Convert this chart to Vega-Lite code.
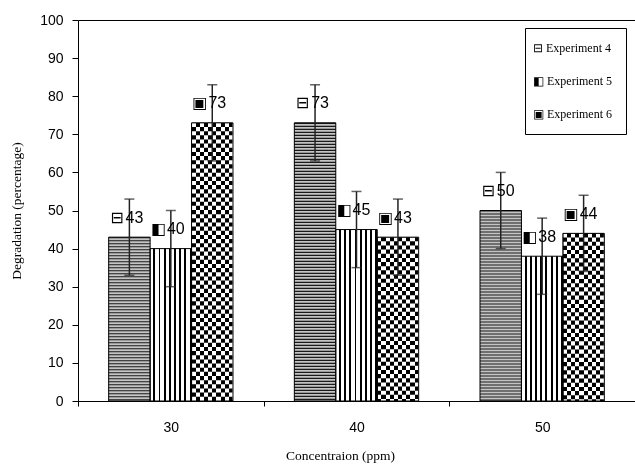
{
  "$schema": "https://vega.github.io/schema/vega-lite/v6.json",
  "autosize": {"type": "none"},
  "padding": {"left": 78, "top": 20, "right": 0, "bottom": 65},
  "width": 557,
  "height": 381,
  "background": "white",
  "data": {
    "values": [
      {"conc": "30", "series": "Experiment 4", "value": 43, "err": 10},
      {"conc": "30", "series": "Experiment 5", "value": 40, "err": 10},
      {"conc": "30", "series": "Experiment 6", "value": 73, "err": 10},
      {"conc": "40", "series": "Experiment 4", "value": 73, "err": 10},
      {"conc": "40", "series": "Experiment 5", "value": 45, "err": 10},
      {"conc": "40", "series": "Experiment 6", "value": 43, "err": 10},
      {"conc": "50", "series": "Experiment 4", "value": 50, "err": 10},
      {"conc": "50", "series": "Experiment 5", "value": 38, "err": 10},
      {"conc": "50", "series": "Experiment 6", "value": 44, "err": 10}
    ]
  },
  "encoding": {
    "x": {
      "field": "conc",
      "type": "nominal",
      "scale": {"paddingInner": 0, "paddingOuter": 0},
      "axis": {
        "title": "Concentraion (ppm)",
        "labelAngle": 0,
        "tickBand": "extent",
        "tickSize": 5,
        "labelPadding": 14,
        "titlePadding": 14,
        "titleX": 262,
        "titleAnchor": "middle",
        "zindex": 2
      }
    },
    "xOffset": {
      "field": "series",
      "type": "nominal",
      "scale": {"domain": ["Experiment 4", "Experiment 5", "Experiment 6"], "paddingInner": 0, "paddingOuter": 0.74}
    },
    "y": {
      "field": "value",
      "type": "quantitative",
      "scale": {"domain": [0, 100]},
      "axis": {
        "title": "Degradation (percentage)",
        "values": [0, 10, 20, 30, 40, 50, 60, 70, 80, 90, 100],
        "tickSize": 6,
        "labelPadding": 9,
        "titlePadding": 16,
        "grid": true,
        "gridColor": "#000",
        "gridOpacity": {"condition": {"test": "datum.value === 100", "value": 1}, "value": 0},
        "zindex": 2
      }
    }
  },
  "layer": [
    {
      "transform": [{"filter": "datum.series === 'Experiment 4'"}],
      "mark": {"type": "bar", "fill": "#c4c4c4"}
    },
    {
      "transform": [{"filter": "datum.series === 'Experiment 4'"}],
      "mark": {"type": "rule", "stroke": "#1a1a1a", "strokeWidth": 41.5, "strokeDash": [1.1, 1.9], "strokeCap": "butt"},
      "encoding": {"y2": {"datum": 0}}
    },
    {
      "transform": [{"filter": "datum.series === 'Experiment 5'"}],
      "mark": {
        "type": "bar",
        "fill": {
          "gradient": "linear", "x1": 0, "y1": 0, "x2": 1, "y2": 0,
          "stops": [
            {"offset": 0, "color": "#fff"}, {"offset": 0.0775, "color": "#fff"}, {"offset": 0.0775, "color": "#000"}, {"offset": 0.125, "color": "#000"},
            {"offset": 0.125, "color": "#fff"}, {"offset": 0.2025, "color": "#fff"}, {"offset": 0.2025, "color": "#000"}, {"offset": 0.25, "color": "#000"},
            {"offset": 0.25, "color": "#fff"}, {"offset": 0.3275, "color": "#fff"}, {"offset": 0.3275, "color": "#000"}, {"offset": 0.375, "color": "#000"},
            {"offset": 0.375, "color": "#fff"}, {"offset": 0.4525, "color": "#fff"}, {"offset": 0.4525, "color": "#000"}, {"offset": 0.5, "color": "#000"},
            {"offset": 0.5, "color": "#fff"}, {"offset": 0.5775, "color": "#fff"}, {"offset": 0.5775, "color": "#000"}, {"offset": 0.625, "color": "#000"},
            {"offset": 0.625, "color": "#fff"}, {"offset": 0.7025, "color": "#fff"}, {"offset": 0.7025, "color": "#000"}, {"offset": 0.75, "color": "#000"},
            {"offset": 0.75, "color": "#fff"}, {"offset": 0.8275, "color": "#fff"}, {"offset": 0.8275, "color": "#000"}, {"offset": 0.875, "color": "#000"},
            {"offset": 0.875, "color": "#fff"}, {"offset": 0.9525, "color": "#fff"}, {"offset": 0.9525, "color": "#000"}, {"offset": 1, "color": "#000"}
          ]
        }
      }
    },
    {
      "transform": [{"filter": "datum.series === 'Experiment 6'"}],
      "mark": {
        "type": "bar",
        "fill": {
          "gradient": "linear", "x1": 0, "y1": 0, "x2": 1, "y2": 0,
          "stops": [
            {"offset": 0, "color": "#000"}, {"offset": 0.1, "color": "#000"}, {"offset": 0.1, "color": "#fff"}, {"offset": 0.2, "color": "#fff"},
            {"offset": 0.2, "color": "#000"}, {"offset": 0.3, "color": "#000"}, {"offset": 0.3, "color": "#fff"}, {"offset": 0.4, "color": "#fff"},
            {"offset": 0.4, "color": "#000"}, {"offset": 0.5, "color": "#000"}, {"offset": 0.5, "color": "#fff"}, {"offset": 0.6, "color": "#fff"},
            {"offset": 0.6, "color": "#000"}, {"offset": 0.7, "color": "#000"}, {"offset": 0.7, "color": "#fff"}, {"offset": 0.8, "color": "#fff"},
            {"offset": 0.8, "color": "#000"}, {"offset": 0.9, "color": "#000"}, {"offset": 0.9, "color": "#fff"}, {"offset": 1, "color": "#fff"}
          ]
        }
      }
    },
    {
      "transform": [{"filter": "datum.series === 'Experiment 6'"}],
      "mark": {"type": "rule", "stroke": "#fff", "strokeWidth": 40.5, "strokeDash": [4.15, 4.15], "strokeCap": "butt", "blend": "difference"},
      "encoding": {"y2": {"datum": 0}}
    },
    {
      "mark": {"type": "bar", "fill": "transparent", "stroke": "#000", "strokeWidth": 1}
    },
    {
      "mark": {
        "type": "errorbar",
        "rule": {"stroke": "#222", "strokeWidth": 1.5},
        "ticks": {"color": "#222", "size": 10, "thickness": 1.5}
      },
      "encoding": {"yError": {"field": "err"}}
    },
    {
      "mark": {"type": "text", "font": "DejaVu Sans", "fontSize": 16, "dx": -12.5, "dy": -19.5, "align": "center", "baseline": "middle"},
      "encoding": {
        "text": {
          "condition": [
            {"test": "datum.series === 'Experiment 4'", "value": "⊟"},
            {"test": "datum.series === 'Experiment 5'", "value": "◧"}
          ],
          "value": "▣"
        },
        "fill": {
          "field": "series",
          "type": "nominal",
          "scale": {"domain": ["Experiment 4", "Experiment 5", "Experiment 6"], "range": ["#000", "#000", "#000"]},
          "legend": {
            "title": null,
            "orient": "none",
            "legendX": 447,
            "legendY": 8,
            "fillColor": "#fff",
            "strokeColor": "#000",
            "padding": 14,
            "rowPadding": 21,
            "symbolType": "square",
            "symbolSize": 0,
            "symbolOpacity": 0,
            "symbolStrokeWidth": 0,
            "labelFont": "Liberation Serif",
            "labelFontSize": 12,
            "labelColor": "#000",
            "labelOffset": -18,
            "labelExpr": "(datum.label === 'Experiment 4' ? '⊟ ' : datum.label === 'Experiment 5' ? '◧ ' : '▣ ') + datum.label"
          }
        }
      }
    },
    {
      "mark": {"type": "text", "font": "Liberation Sans", "fontSize": 16, "color": "#000", "dx": 5, "dy": -19.5, "align": "center", "baseline": "middle"},
      "encoding": {
        "text": {"field": "value", "type": "quantitative"}
      }
    }
  ],
  "config": {
    "view": {"stroke": null},
    "axis": {
      "domainColor": "#000",
      "tickColor": "#000",
      "labelFont": "Liberation Sans",
      "labelFontSize": 14,
      "labelColor": "#000",
      "titleFont": "Liberation Serif",
      "titleFontSize": 13.5,
      "titleFontWeight": "normal",
      "titleColor": "#000"
    },
    "axisX": {"grid": false}
  }
}
